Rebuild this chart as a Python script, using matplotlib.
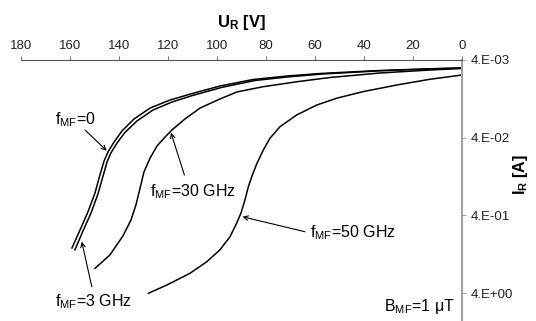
import matplotlib
matplotlib.use('Agg')
import matplotlib.pyplot as plt
from matplotlib.ticker import FixedLocator, FixedFormatter, NullLocator

plt.rcParams['font.family'] = ['Liberation Sans', 'DejaVu Sans']
plt.rcParams['mathtext.fontset'] = 'custom'
plt.rcParams['mathtext.rm'] = 'Liberation Sans'
plt.rcParams['mathtext.bf'] = 'Liberation Sans:bold'

# reverse voltage U_R [V] and reverse current I_R [A]
u_f0 = [159.2, 155.9, 152.7, 149.8, 147.8, 146.1, 144.5, 142.0, 138.8, 133.9,
        127.3, 119.2, 111.0, 98.8, 85.3, 71.4, 58.0, 33.5, 13.1, 0.0]
i_f0 = [1.05, 0.617, 0.362, 0.206, 0.121, 0.0798, 0.0611, 0.0454, 0.0328, 0.0230,
        0.0166, 0.0131, 0.0110, 0.00865, 0.00713, 0.00643, 0.00597, 0.00546, 0.00519, 0.00507]

u_f3 = [158.0, 154.7, 151.4, 148.6, 146.5, 144.9, 143.3, 140.8, 137.6, 132.7,
        126.1, 118.4, 110.2, 98.0, 84.5, 70.6, 57.1, 33.5, 13.1, 0.0]
i_f3 = [1.11, 0.635, 0.372, 0.212, 0.124, 0.0822, 0.0629, 0.0468, 0.0343, 0.0244,
        0.0176, 0.0139, 0.0115, 0.0090, 0.00734, 0.00658, 0.00606, 0.00551, 0.00521, 0.00507]

u_f30 = [149.8, 143.7, 138.4, 135.1, 133.1, 131.4, 129.8, 127.3, 124.5, 121.2, 118.4,
         113.1, 106.9, 98.8, 91.8, 81.2, 67.3, 53.9, 33.5, 13.1, 0.0]
i_f30 = [1.92, 1.29, 0.736, 0.458, 0.294, 0.178, 0.110, 0.0730, 0.0512, 0.0392, 0.0318,
         0.0230, 0.0166, 0.0127, 0.0103, 0.00883, 0.00761, 0.00672, 0.00588, 0.00538, 0.00514]

u_f50 = [128.0, 120.5, 111.0, 104.2, 98.8, 94.7, 92.0, 90.2, 88.6, 87.2, 85.7,
         83.8, 81.1, 78.4, 74.3, 67.5, 59.3, 51.1, 40.3, 26.7, 13.1, 0.0]
i_f50 = [4.02, 3.15, 2.22, 1.58, 1.11, 0.752, 0.506, 0.372, 0.253, 0.171, 0.124,
         0.0871, 0.0576, 0.0407, 0.0289, 0.0204, 0.0152, 0.0124, 0.0102, 0.0084, 0.00708, 0.00624]

x_ticks = [180, 160, 140, 120, 100, 80, 60, 40, 20, 0]
y_ticks = [4e-3, 4e-2, 4e-1, 4e0]
y_tick_labels = ['4.E-03', '4.E-02', '4.E-01', '4.E+00']

fig = plt.figure(figsize=(5.36, 3.21), dpi=100)
ax = fig.add_axes([21 / 536, 0.0, 441 / 536, 261 / 321])

for u, i in [(u_f0, i_f0), (u_f3, i_f3), (u_f30, i_f30), (u_f50, i_f50)]:
    ax.plot(u, i, color='black', lw=1.1, solid_joinstyle='round')

ax.set_yscale('log')
ax.set_xlim(180, 0)
ax.set_ylim(9.14, 4e-3)

# axes on top and on the right
ax.xaxis.tick_top()
ax.xaxis.set_label_position('top')
ax.yaxis.tick_right()
ax.yaxis.set_label_position('right')
for s in ['left', 'bottom']:
    ax.spines[s].set_visible(False)
ax.spines['top'].set_color('#555555')
ax.spines['top'].set_linewidth(0.8)
ax.spines['right'].set_color('#a0a0a0')
ax.spines['right'].set_linewidth(1.5)

ax.xaxis.set_major_locator(FixedLocator(x_ticks))
ax.yaxis.set_major_locator(FixedLocator(y_ticks))
ax.yaxis.set_major_formatter(FixedFormatter(y_tick_labels))
ax.yaxis.set_minor_locator(NullLocator())
ax.tick_params(axis='x', direction='out', length=3, width=0.7, color='#777777',
               labelsize=9.5, pad=3, labelcolor='#222222')
ax.tick_params(axis='y', direction='out', length=3, width=0.7, color='#a0a0a0',
               labelsize=9.5, pad=3, labelcolor='#222222')

ax.set_xlabel(r'$\mathbf{U_R}$ [V]', fontsize=12, fontweight='bold', labelpad=9)
ax.set_ylabel(r'$\mathbf{I_R}$ [A]', fontsize=11.5, fontweight='bold')
ax.yaxis.set_label_coords(1.112, 0.56)

fs = 11.5
arrow = dict(arrowstyle='->', lw=0.8, color='black', shrinkA=0, shrinkB=0,
             mutation_scale=8)

ax.text(157.6, 0.0237, r'f$_{\mathrm{MF}}$=0', fontsize=fs, ha='center', va='center')
ax.annotate('', xy=(145.0, 0.0588), xytext=(153.9, 0.0318), arrowprops=arrow)

ax.text(109.8, 0.198, r'f$_{\mathrm{MF}}$=30 GHz', fontsize=fs, ha='center', va='center')
ax.annotate('', xy=(118.8, 0.0345), xytext=(113.3, 0.121), arrowprops=arrow)

ax.text(150.6, 5.16, r'f$_{\mathrm{MF}}$=3 GHz', fontsize=fs, ha='center', va='center')
ax.annotate('', xy=(155.2, 0.871), xytext=(151.1, 3.31), arrowprops=arrow)

ax.text(62.0, 0.675, r'f$_{\mathrm{MF}}$=50 GHz', fontsize=fs, ha='left', va='center')
ax.annotate('', xy=(89.6, 0.416), xytext=(64.1, 0.649), arrowprops=arrow)

ax.text(0.984, 0.055, r'B$_{\mathrm{MF}}$=1 μT', fontsize=fs, ha='right', va='center',
        transform=ax.transAxes)

fig.savefig('out.png', dpi=100)
